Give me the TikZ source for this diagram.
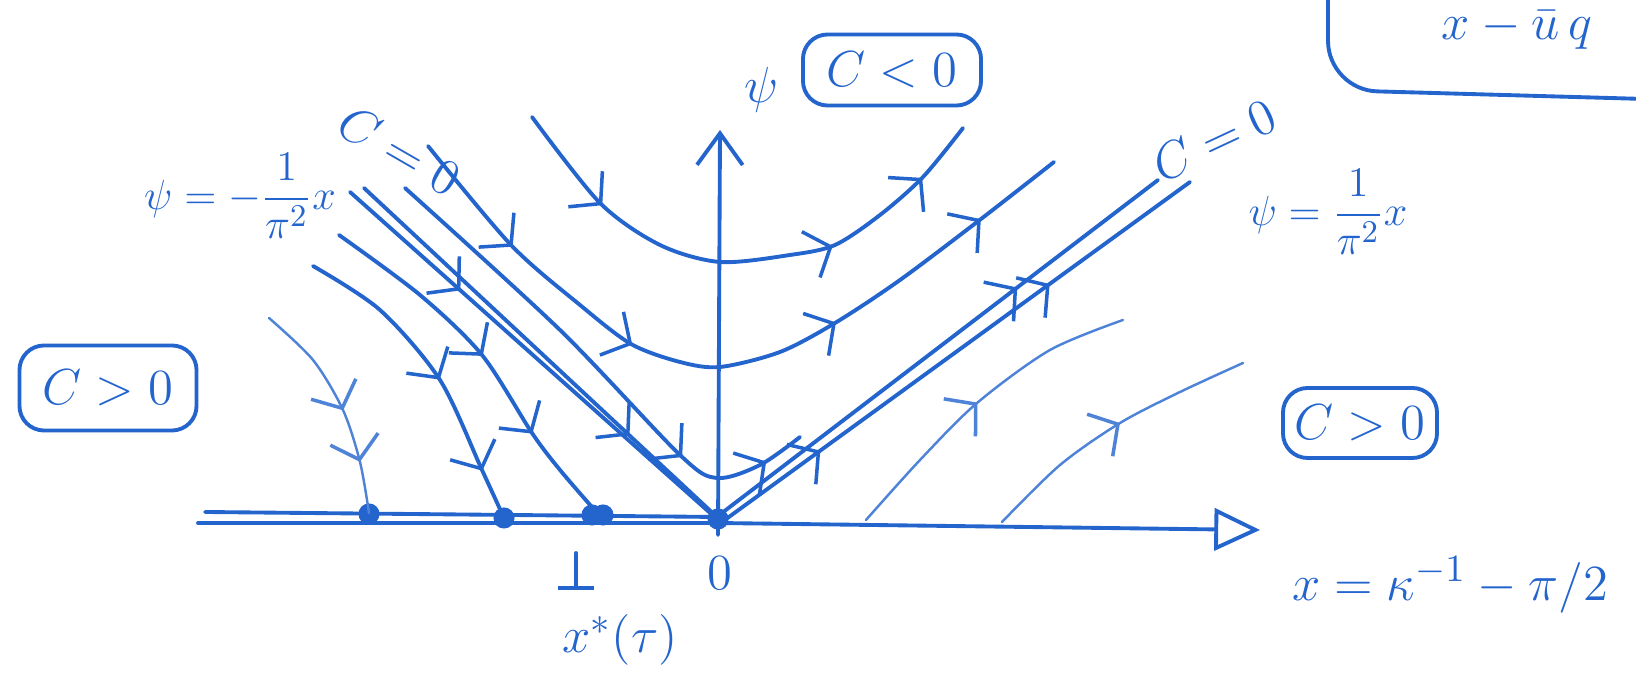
\documentclass[tikz,border=0pt]{standalone}
\usepackage{tikz}
\usetikzlibrary{positioning}
\usetikzlibrary{arrows.meta}
\usetikzlibrary{decorations.markings}
\usepackage{amsmath}
\definecolor{ink}{RGB}{35,100,205}
\tikzset{
    pen/.style={ink, line width=1.1pt, line cap=round, line join=round},
    faint/.style={ink!80, line width=0.7pt, line cap=round},
    barb/.style={postaction={decorate, decoration={markings,
        mark=at position #1 with {\arrow{Straight Barb[length=6pt, width=14pt, line width=1pt]}}}}},
    tag/.style={ink, font=\fontsize{15}{18}\selectfont},
    boxed/.style={tag, draw, line width=1.1pt, rounded corners=7pt}
}

\begin{document}
\begin{tikzpicture}[x=0.01cm, y=-0.01cm]
    \useasboundingbox (0,0) rectangle (1636,674);
    \clip (0,0) rectangle (1636,674);

    % axes
    \draw[pen] (205,512) -- (718,517);
    \draw[pen] (198,523) -- (718,523);
    \draw[pen, -{Triangle[open, length=13pt, width=12pt]}] (718,523) -- (1260,530);
    \draw[pen, -{Straight Barb[length=9pt, width=13pt]}] (718,535) -- (720,130);

    \foreach \x/\y in {369/514, 504/518, 592/515, 603/515, 718/519} {
        \fill[ink] (\x, \y) circle (3pt);
    }

    % C<0 curves
    \draw[pen, barb=0.21, barb=0.67, barb=0.88] plot[smooth] coordinates
        {(532,117) (600,203) (660,245) (720,262) (790,255) (835,245) (880,215) (923,177) (963,128)};
    \draw[pen, barb=0.17, barb=0.37, barb=0.65, barb=0.88] plot[smooth] coordinates
        {(428,146) (511,245) (580,305) (631,344) (680,362) (720,367) (780,352) (835,323) (900,280) (981,219) (1054,162)};
    \draw[pen, barb=0.74, barb=0.92] plot[smooth] coordinates
        {(405,188) (560,330) (680,455) (717,478) (760,465) (800,437)};

    % separatrices C=0
    \draw[pen, barb=0.3] (350,192) -- (718,520);
    \draw[pen, barb=0.75] (364,188) -- (718,518);
    \draw[pen, barb=0.68] (718,516) -- (1158,180);
    \draw[pen, barb=0.21, barb=0.7] (722,522) -- (1190,182);

    % C>0 curves, left
    \draw[faint, barb=0.53, barb=0.77] plot[smooth] coordinates
        {(269,318) (313,360) (343,410) (360,462) (369,513)};
    \draw[pen, barb=0.53, barb=0.84] plot[smooth] coordinates
        {(313,266) (380,310) (440,380) (482,470) (504,518)};
    \draw[pen, barb=0.49, barb=0.73] plot[smooth] coordinates
        {(339,235) (420,295) (482,355) (532,433) (560,470) (598,514)};

    % C>0 curves, right
    \draw[faint, barb=0.49] plot[smooth] coordinates
        {(866,520) (920,460) (977,403) (1050,350) (1123,320)};
    \draw[faint, barb=0.53] plot[smooth] coordinates
        {(1002,522) (1060,465) (1120,423) (1180,392) (1243,363)};

    % labels
    \node[tag] (psilab) at (762,90) {$\psi$};
    \node[boxed, minimum width=1.78cm, minimum height=0.71cm] (neg) at (892,70) {$C<0$};
    \node[boxed, minimum width=1.77cm, minimum height=0.85cm] (posl) at (108,388) {$C>0$};
    \node[boxed, minimum width=1.44cm, minimum height=0.70cm] (posr) at (1360,423) {$C>0$};
    \node[tag, font=\fontsize{13}{15}\selectfont] (lsep) at (240,196) {$\psi=-\dfrac{1}{\pi^2}x$};
    \node[tag, font=\fontsize{13}{15}\selectfont] (rsep) at (1328,212) {$\psi=\dfrac{1}{\pi^2}x$};
    \node[tag, rotate=-30, inner sep=1pt] (lzero) at (400,150) {$C=0$};
    \node[tag, rotate=25, inner sep=1pt] (rzero) at (1214,140) {$C=0$};
    \node[tag] (orig) at (720,573) {$0$};
    \node[tag] (xstar) at (620,640) {$x^{*}(\tau)$};
    \node[tag] (xlab) at (1450,585) {$x=\kappa^{-1}-\pi/2$};

    \coordinate (tktop) at (576,553);
    \coordinate (tkbot) at (576,590);
    \draw[pen, -{Bar[width=10pt]}] (tktop) -- (tkbot);

    % box at the top right, cut by the edge
    \draw[pen, rounded corners=14pt] (1328,-40) -- (1328,90) -- (1680,100);
    \node[tag, anchor=base, inner sep=1pt] (defn) at (1517,40) {$x-\bar{u}\,q$};
\end{tikzpicture}
\end{document}
